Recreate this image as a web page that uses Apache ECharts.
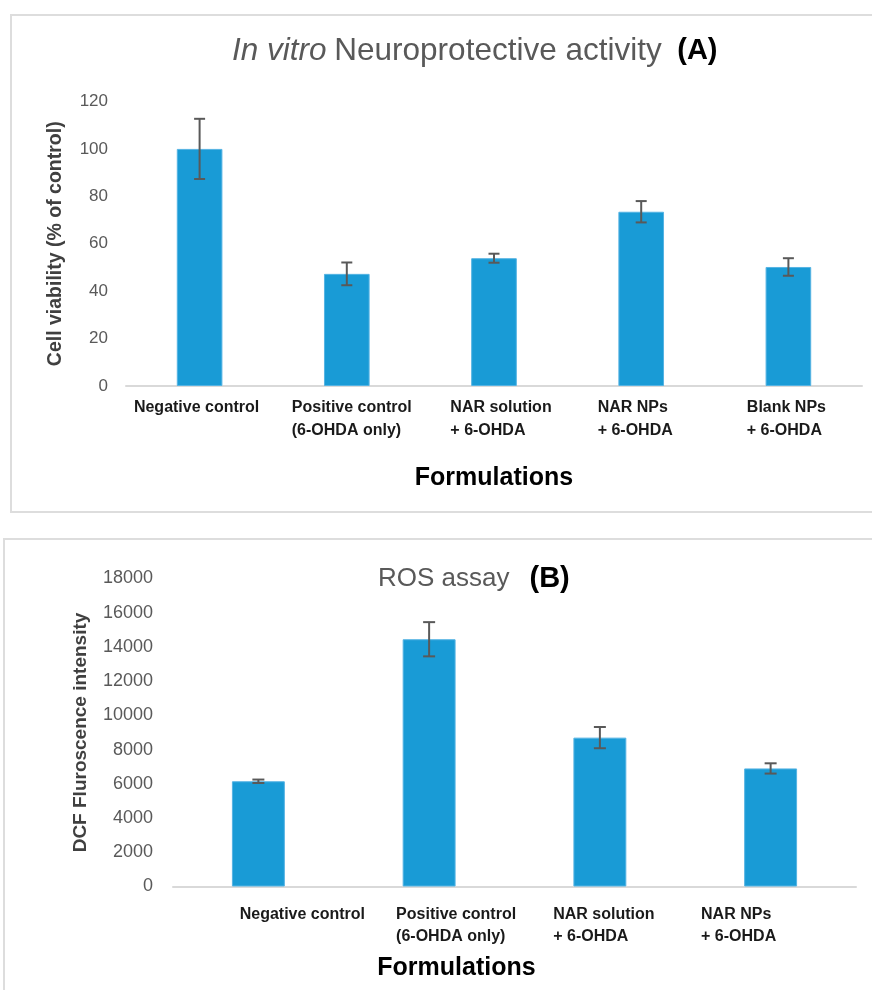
<!DOCTYPE html>
<html>
<head>
<meta charset="utf-8">
<script src="https://cdn.jsdelivr.net/npm/echarts@6/dist/echarts.min.js"></script>
<style>
  html, body { margin: 0; padding: 0; background: #fff; }
  #chart { width: 872px; height: 990px; }
</style>
</head>
<body>
<div id="chart"></div>
<script>
// Panel A: in vitro neuroprotective activity (cell viability, % of control)
const categoriesA = ['Negative control', 'Positive control\n(6-OHDA only)', 'NAR solution\n+ 6-OHDA', 'NAR NPs\n+ 6-OHDA', 'Blank NPs\n+ 6-OHDA'];
const viabilityA = [100, 47.3, 53.9, 73.5, 50.2];
const viabilityErrA = [12.7, 4.8, 1.9, 4.5, 3.7];
const ticksA = { min: 0, max: 120, interval: 20 };

// Panel B: ROS assay (DCF fluorescence intensity)
const categoriesB = ['Negative control', 'Positive control\n(6-OHDA only)', 'NAR solution\n+ 6-OHDA', 'NAR NPs\n+ 6-OHDA'];
const dcfB = [6150, 14450, 8700, 6900];
const dcfErrB = [100, 1000, 620, 300];
const ticksB = { min: 0, max: 18000, interval: 2000 };

// Horizontal nudge (px) of each category label block relative to its bar
const labelShiftA = [-3, 5, 7, -6, -2];
const labelShiftB = [44, 27, 4, -32];

const FONT = "'Liberation Sans', Arial, sans-serif";
const BAR_COLOR = '#199bd6';
const GREY = '#595959';

// Category labels: left-aligned lines inside a block, block shifted by a spacer token
function labelConfig(shifts, fontSize, lineHeight, margin) {
  const rich = {
    t: { fontFamily: FONT, fontSize: fontSize, fontWeight: 'bold', color: '#1a1a1a', align: 'left', lineHeight: lineHeight }
  };
  shifts.forEach(function (d, i) {
    rich['p' + i] = { width: Math.abs(d) * 2, align: 'left', lineHeight: lineHeight };
  });
  return {
    interval: 0,
    margin: margin,
    rich: rich,
    formatter: function (value, index) {
      const d = shifts[index] || 0;
      const sp = '{p' + index + '|}';
      return value.split('\n').map(function (line) {
        const t = '{t|' + line + '}';
        return d >= 0 ? sp + t : t + sp;
      }).join('\n');
    }
  };
}

function errorBars(xAxisIndex, yAxisIndex, values, errs, cap) {
  return {
    type: 'custom',
    xAxisIndex: xAxisIndex,
    yAxisIndex: yAxisIndex,
    z: 5,
    silent: true,
    data: values.map(function (v, i) { return [i, v, errs[i]]; }),
    encode: { x: 0, y: 1 },
    renderItem: function (params, api) {
      const i = api.value(0), v = api.value(1), e = api.value(2);
      const hi = api.coord([i, v + e]);
      const lo = api.coord([i, v - e]);
      const style = { stroke: GREY, lineWidth: 2 };
      return {
        type: 'group',
        children: [
          { type: 'line', shape: { x1: hi[0], y1: hi[1], x2: lo[0], y2: lo[1] }, style: style },
          { type: 'line', shape: { x1: hi[0] - cap, y1: hi[1], x2: hi[0] + cap, y2: hi[1] }, style: style },
          { type: 'line', shape: { x1: lo[0] - cap, y1: lo[1], x2: lo[0] + cap, y2: lo[1] }, style: style }
        ]
      };
    }
  };
}

const chart = echarts.init(document.getElementById('chart'), null, { renderer: 'canvas' });

chart.setOption({
  backgroundColor: '#ffffff',
  animation: false,
  title: [
    {
      left: 232, top: 35, padding: 0,
      text: '{i|In vitro} {n|Neuroprotective activity}  {b|(A)}',
      textStyle: {
        fontFamily: FONT, fontSize: 28, fontWeight: 'normal', color: GREY,
        rich: {
          i: { fontFamily: FONT, fontSize: 31.5, fontStyle: 'italic', fontWeight: 'normal', color: GREY },
          n: { fontFamily: FONT, fontSize: 31.5, fontWeight: 'normal', color: GREY },
          b: { fontFamily: FONT, fontSize: 29, fontWeight: 'bold', color: '#000' }
        }
      }
    },
    {
      left: 378, top: 564, padding: 0,
      text: '{n|ROS assay}   {b|(B)}',
      textStyle: {
        fontFamily: FONT, fontSize: 24, fontWeight: 'normal', color: GREY,
        rich: {
          n: { fontFamily: FONT, fontSize: 26, fontWeight: 'normal', color: GREY },
          b: { fontFamily: FONT, fontSize: 29, fontWeight: 'bold', color: '#000' }
        }
      }
    }
  ],
  graphic: [
    { type: 'rect', z: -1, shape: { x: 11, y: 15, width: 900, height: 497 }, style: { fill: 'none', stroke: '#dddddd', lineWidth: 2 } },
    { type: 'rect', z: -1, shape: { x: 4, y: 539, width: 900, height: 500 }, style: { fill: 'none', stroke: '#dddddd', lineWidth: 2 } }
  ],
  grid: [
    { left: 126, top: 101.5, width: 736, height: 284.5 },
    { left: 173, top: 578.5, width: 683, height: 308 }
  ],
  xAxis: [
    {
      gridIndex: 0, type: 'category', data: categoriesA,
      axisLine: { lineStyle: { color: '#d9d9d9', width: 2 } },
      axisTick: { show: false },
      axisLabel: labelConfig(labelShiftA, 16, 23, 10),
      name: 'Formulations', nameLocation: 'middle', nameGap: 80,
      nameTextStyle: { fontFamily: FONT, fontSize: 25, fontWeight: 'bold', color: '#000' }
    },
    {
      gridIndex: 1, type: 'category', data: categoriesB,
      axisLine: { lineStyle: { color: '#d9d9d9', width: 2 } },
      axisTick: { show: false },
      axisLabel: labelConfig(labelShiftB, 16, 22, 17),
      name: 'Formulations', nameLocation: 'middle', nameGap: 69,
      nameTextStyle: { fontFamily: FONT, fontSize: 25, fontWeight: 'bold', color: '#000', padding: [0, 116, 0, 0] }
    }
  ],
  yAxis: [
    {
      gridIndex: 0, type: 'value', min: ticksA.min, max: ticksA.max, interval: ticksA.interval,
      axisLine: { show: false }, axisTick: { show: false }, splitLine: { show: false },
      axisLabel: { fontFamily: FONT, fontSize: 17, color: GREY, margin: 18, formatter: function (v) { return String(v); } },
      name: 'Cell viability (% of control)', nameLocation: 'middle', nameGap: 60,
      nameTextStyle: { fontFamily: FONT, fontSize: 19.5, fontWeight: 'bold', color: '#404040' }
    },
    {
      gridIndex: 1, type: 'value', min: ticksB.min, max: ticksB.max, interval: ticksB.interval,
      axisLine: { show: false }, axisTick: { show: false }, splitLine: { show: false },
      axisLabel: { fontFamily: FONT, fontSize: 18, color: GREY, margin: 20, formatter: function (v) { return String(v); } },
      name: 'DCF Fluroscence intensity', nameLocation: 'middle', nameGap: 83,
      nameTextStyle: { fontFamily: FONT, fontSize: 19, fontWeight: 'bold', color: '#404040' }
    }
  ],
  series: [
    {
      type: 'bar', xAxisIndex: 0, yAxisIndex: 0, data: viabilityA, barWidth: '31%',
      itemStyle: { color: BAR_COLOR, borderColor: '#55b3e3', borderWidth: 1 }
    },
    errorBars(0, 0, viabilityA, viabilityErrA, 5.5),
    {
      type: 'bar', xAxisIndex: 1, yAxisIndex: 1, data: dcfB, barWidth: '31%',
      itemStyle: { color: BAR_COLOR, borderColor: '#55b3e3', borderWidth: 1 }
    },
    errorBars(1, 1, dcfB, dcfErrB, 6)
  ]
});
</script>
</body>
</html>
